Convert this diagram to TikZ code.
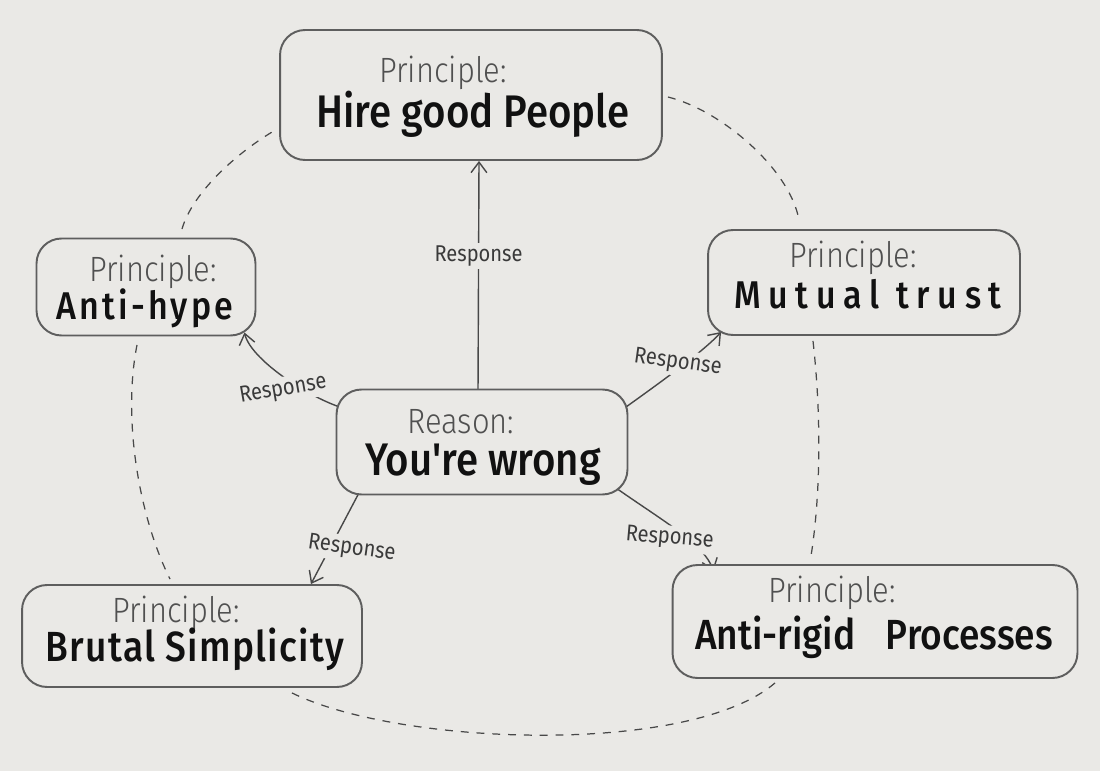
\documentclass[tikz,border=0pt]{standalone}
\usepackage{fontspec}
\setmainfont{Fira Sans}[FakeStretch=0.88]
\newfontfamily\headfont{Fira Sans Medium}[FakeStretch=0.88]
\newfontfamily\thinfont{Fira Sans Light}[FakeStretch=0.88]
\usetikzlibrary{arrows.meta,calc}
\pgfdeclarelayer{paperlayer}
\pgfdeclarelayer{background}
\pgfsetlayers{paperlayer,background,main}
\definecolor{paper}{HTML}{EAE9E6}
\definecolor{boxc}{HTML}{5E5E5E}
\definecolor{linec}{HTML}{484848}
\definecolor{kindc}{HTML}{505050}
\definecolor{titlec}{HTML}{111111}
\tikzset{
  box/.style={draw=boxc, line width=1.1pt, fill=paper, rounded corners=0.5cm, inner sep=0pt},
  kind/.style={font=\thinfont\fontsize{20}{24}\selectfont, text=kindc, anchor=base, inner sep=0pt},
  title/.style={font=\headfont\fontsize{26}{30}\selectfont, text=titlec, anchor=base, inner sep=0pt},
  lbl/.style={font=\fontsize{13}{15}\selectfont, text=linec!80!black, fill=paper, inner sep=1.5pt},
  arr/.style={draw=linec, line width=0.8pt, -{Straight Barb[length=6pt,width=9pt]}},
  dashc/.style={draw=linec, line width=0.7pt, dash pattern=on 4.5pt off 4.5pt}
}
\begin{document}
\begin{tikzpicture}[x=0.02cm,y=-0.02cm]
\useasboundingbox (0,0) rectangle (1100,771);
\begin{pgfonlayer}{paperlayer}
\fill[paper] (0,0) rectangle (1100,771);
\end{pgfonlayer}

% boxes
\node[box, minimum width=7.64cm, minimum height=2.6cm] (hire) at (471,95) {};
\node[box, minimum width=4.38cm, minimum height=1.94cm] (antihype) at (146,287) {};
\node[box, minimum width=6.24cm, minimum height=2.1cm] (mutual) at (864,282.5) {};
\node[box, minimum width=5.82cm, minimum height=2.1cm] (reason) at (482,442) {};
\node[box, minimum width=6.8cm, minimum height=2.04cm] (brutal) at (192,636) {};
\node[box, minimum width=8.1cm, minimum height=2.26cm] (antirigid) at (875,621.5) {};

% texts
\node[kind] (hireK) at (443,82) {Principle:};
\node[title] (hireT) at (473,127) {Hire good People};
\node[kind] (antihypeK) at (153,281) {Principle:};
\node[title, font=\headfont\fontsize{22}{26}\selectfont] (antihypeT) at (145,319) {\addfontfeatures{LetterSpace=8}Anti-hype};
\node[kind] (mutualK) at (853,267) {Principle:};
\node[title, font=\headfont\fontsize{22}{26}\selectfont] (mutualT) at (868,308) {\addfontfeatures{LetterSpace=20}Mutual trust};
\node[kind] (reasonK) at (461,433) {Reason:};
\node[title, font=\headfont\fontsize{26}{30}\selectfont] (reasonT) at (483,475) {You're wrong};
\node[kind] (brutalK) at (176,622) {Principle:};
\node[title, font=\headfont\fontsize{24}{28}\selectfont] (brutalT) at (195,661) {\addfontfeatures{LetterSpace=3}Brutal Simplicity};
\node[kind] (antirigidK) at (832,602) {Principle:};
\node[title, font=\headfont\fontsize{24}{28}\selectfont] (antirigidT) at (874,649) {Anti-rigid\hspace{0.5em} Processes};

\begin{pgfonlayer}{background}
% responses
\draw[arr] ($(reason.north)+(-4,5)$) -- ($(hire.south)+(8,0)$)
  node[lbl, pos=0.59] {Response};
\draw[arr] ($(reason.north west)+(20,23)$) .. controls +(-38.5,-7.5) and +(6.5,28.5) .. ($(antihype.south east)+(-12,-4)$)
  node[lbl, pos=0.42, rotate=10, xshift=-0.32cm] {Response};
\draw[arr] ($(reason.north east)+(-9.5,23.5)$) .. controls +(42,-30) and +(-17,19) .. ($(mutual.south west)+(14,-4)$)
  node[lbl, pos=0.55, rotate=-8, xshift=-0.14cm] {Response};
\draw[arr] ($(reason.south west)+(25.5,-6.5)$) -- ($(brutal.north east)+(-52,0)$)
  node[lbl, pos=0.6, rotate=-8, xshift=0.42cm] {Response};
\draw[arr] ($(reason.south east)+(-12.5,-7.5)$) .. controls +(50,35) and +(-9.5,-27) .. ($(antirigid.north west)+(42,7)$)
  node[lbl, pos=0.6, rotate=-5, xshift=-0.4cm] {Response};

% dashed links
\draw[dashc] ($(antihype.north)+(36,-8.5)$) .. controls +(10,-35) and +(-38,23) .. ($(hire.west)+(-7,37)$);
\draw[dashc] ($(hire.east)+(5,2)$) .. controls +(53,13) and +(-9,-51) .. ($(mutual.north)+(-65,-9)$);
\draw[dashc] ($(antihype.south)+(-9,8.5)$) .. controls +(-15,76) and +(-30,-60) .. ($(brutal.north)+(-22,-5)$);
\draw[dashc] ($(mutual.south)+(-51,5)$) .. controls +(9,80) and +(9,-57) .. ($(antirigid.north)+(-64,-8)$);
\draw[dashc] ($(brutal.south)+(100,5)$) .. controls +(108,53) and +(-85,73) .. ($(antirigid.south)+(-100,4)$);
\end{pgfonlayer}
\end{tikzpicture}
\end{document}
